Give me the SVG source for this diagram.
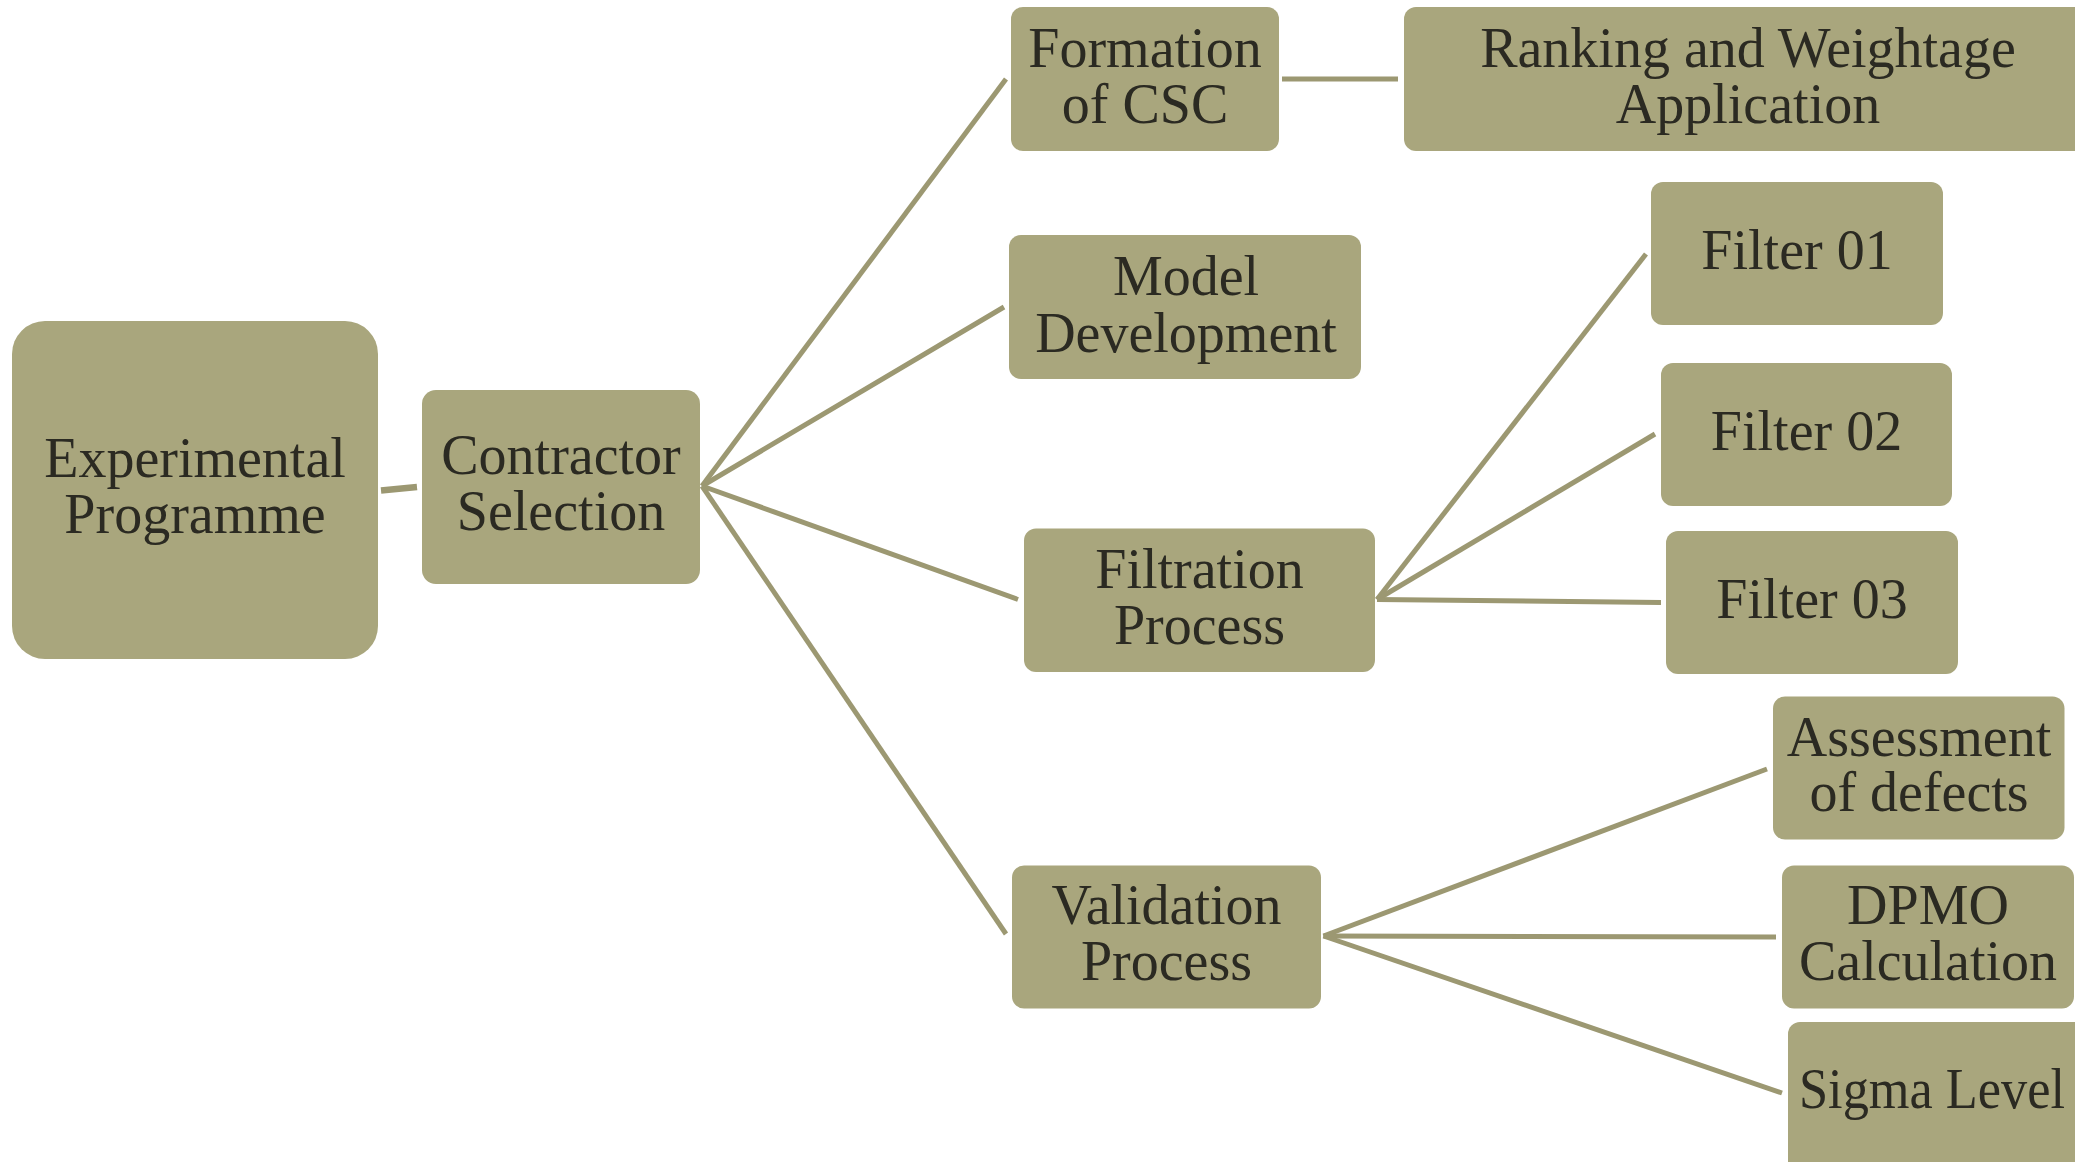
<svg xmlns="http://www.w3.org/2000/svg" width="2075" height="1162" viewBox="0 0 2075 1162">
<style>
.n{fill:#A9A67D;}
.t{font-family:"Liberation Serif","Times New Roman",serif;font-size:56px;fill:#2B2A22;text-anchor:middle;}
.c{stroke:#9C9872;stroke-width:5;fill:none;stroke-linecap:butt;}
</style>
<rect width="2075" height="1162" fill="#FFFFFF"/>
<g id="connectors">
<line class="c" x1="381" y1="490.5" x2="417" y2="487" style="stroke-width:6.5"/>
<line class="c" x1="702" y1="486" x2="1006" y2="79"/>
<line class="c" x1="702" y1="486" x2="1004" y2="307"/>
<line class="c" x1="702" y1="486" x2="1018" y2="599.5"/>
<line class="c" x1="702" y1="486" x2="1006" y2="934"/>
<line class="c" x1="1282" y1="79" x2="1398" y2="79"/>
<line class="c" x1="1377" y1="599.5" x2="1646" y2="254"/>
<line class="c" x1="1377" y1="599.5" x2="1655" y2="434"/>
<line class="c" x1="1377" y1="599.5" x2="1661" y2="602.5"/>
<line class="c" x1="1323.5" y1="936" x2="1767" y2="769"/>
<line class="c" x1="1323.5" y1="936" x2="1776" y2="937"/>
<line class="c" x1="1323.5" y1="936" x2="1782" y2="1093"/>
</g>
<g id="exp">
<rect class="n" x="12" y="321" width="366" height="338" rx="33"/>
<text class="t" x="195" y="477">Experimental</text>
<text class="t" x="195" y="533">Programme</text>
</g>
<g id="contractor">
<rect class="n" x="422" y="390" width="278" height="194" rx="14"/>
<text class="t" x="561" y="474">Contractor</text>
<text class="t" x="561" y="530">Selection</text>
</g>
<g id="formation">
<rect class="n" x="1011" y="7" width="268" height="144" rx="12"/>
<text class="t" x="1145" y="67">Formation</text>
<text class="t" x="1145" y="123">of CSC</text>
</g>
<g id="ranking">
<rect class="n" x="1404" y="7" width="700" height="144" rx="12"/>
<text class="t" x="1748" y="67">Ranking and Weightage</text>
<text class="t" x="1748" y="123">Application</text>
</g>
<g id="model">
<rect class="n" x="1009" y="235" width="352" height="144" rx="12"/>
<text class="t" x="1186" y="295">Model</text>
<text class="t" x="1186" y="352">Development</text>
</g>
<g id="filtration">
<rect class="n" x="1024" y="528.5" width="351" height="143.5" rx="12"/>
<text class="t" x="1199.5" y="588">Filtration</text>
<text class="t" x="1199.5" y="644">Process</text>
</g>
<g id="filter01">
<rect class="n" x="1651" y="182" width="292" height="143" rx="12"/>
<text class="t" x="1797" y="269">Filter 01</text>
</g>
<g id="filter02">
<rect class="n" x="1661" y="363" width="291" height="143" rx="12"/>
<text class="t" x="1806.5" y="450">Filter 02</text>
</g>
<g id="filter03">
<rect class="n" x="1666" y="531" width="292" height="143" rx="12"/>
<text class="t" x="1812" y="618">Filter 03</text>
</g>
<g id="validation">
<rect class="n" x="1012" y="865.5" width="309" height="143" rx="12"/>
<text class="t" x="1166.5" y="923.5">Validation</text>
<text class="t" x="1166.5" y="980">Process</text>
</g>
<g id="assessment">
<rect class="n" x="1773" y="696.5" width="291.5" height="143" rx="12"/>
<text class="t" x="1919" y="755.5">Assessment</text>
<text class="t" x="1919" y="811">of defects</text>
</g>
<g id="dpmo">
<rect class="n" x="1782" y="865.5" width="292" height="143" rx="12"/>
<text class="t" x="1928" y="923.5">DPMO</text>
<text class="t" x="1928" y="980">Calculation</text>
</g>
<g id="sigma">
<rect class="n" x="1788" y="1022" width="300" height="160" rx="12"/>
<text class="t" x="1932" y="1108" textLength="266" lengthAdjust="spacingAndGlyphs">Sigma Level</text>
</g>
</svg>
